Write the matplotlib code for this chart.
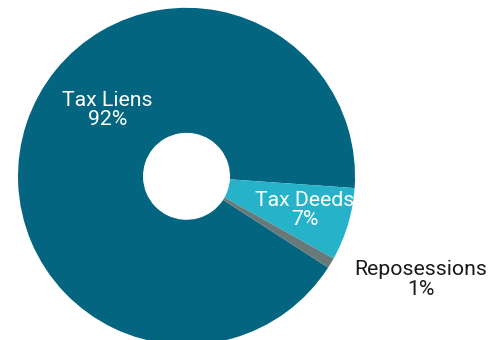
import matplotlib
matplotlib.use("Agg")
import matplotlib.pyplot as plt

categories = ["Tax Liens", "Tax Deeds", "Reposessions"]
values = [92, 7, 1]
colors = ["#036580", "#26b3ca", "#687979"]
label_colors = ["white", "white", "#1a1a1a"]
label_pos = [(107.7, 230.0), (305, 130.0), (420.7, 60.5)]

plt.rcParams['font.family'] = ['Roboto', 'DejaVu Sans']

fig = plt.figure(figsize=(5.02, 3.40), dpi=100)
ax = fig.add_axes([0, 0, 1, 1])

cx, cy = 186.5, 340 - 176.3
R = 168.5
ax.pie(values, colors=colors, startangle=-32.8, counterclock=False,
       center=(cx, cy), radius=R, frame=True,
       wedgeprops=dict(width=R - 43.5, linewidth=0))
ax.set_xlim(0, 502)
ax.set_ylim(0, 340)
ax.set_aspect('equal')
ax.axis('off')

total = sum(values)
for cat, v, tc, (x, y) in zip(categories, values, label_colors, label_pos):
    ax.text(x, y, f"{cat}\n{round(100 * v / total)}%", ha='center', va='center',
            color=tc, fontsize=15.3, linespacing=1.06)

fig.savefig("out.png", dpi=100)
